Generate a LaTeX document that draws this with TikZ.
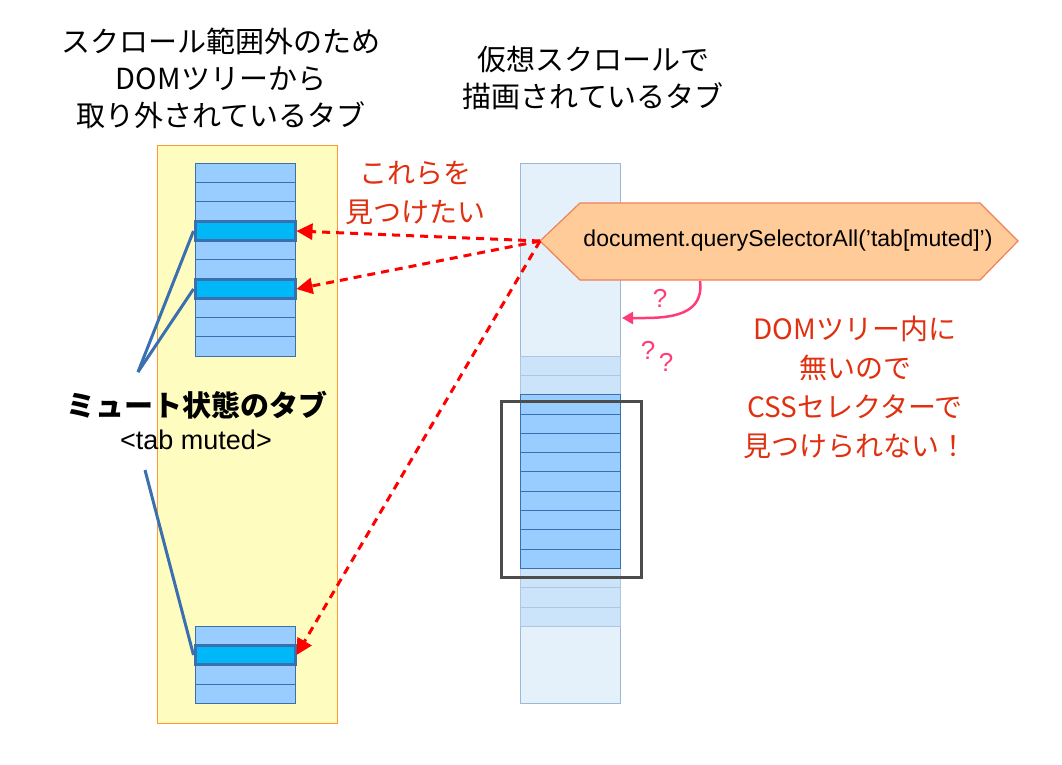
\documentclass[tikz,border=0pt]{standalone}
\usepackage{fontspec}
\setmainfont{Noto Sans CJK JP}
\newfontfamily\latinfont{Liberation Sans}
\usetikzlibrary{arrows.meta,positioning,shapes.geometric}
\definecolor{tabblue}{HTML}{99CCFF}
\definecolor{tabline}{HTML}{3A6FB0}
\definecolor{tabcyan}{HTML}{00B8F8}
\definecolor{lightcol}{HTML}{E4F1FA}
\definecolor{paleblue}{HTML}{CCE4FA}
\definecolor{hexfill}{HTML}{FFCC99}
\definecolor{hexline}{HTML}{F0805A}
\definecolor{redtext}{HTML}{E03010}
\definecolor{pinkarrow}{HTML}{FF3C78}
\tikzset{tab/.style={draw=tabline,fill=tabblue,line width=0.8pt},
         pale tab/.style={draw=tabline!40,fill=paleblue,line width=0.8pt},
         muted tab/.style={draw=tabline,fill=tabcyan,line width=3pt},
         head/.style={font=\fontsize{29}{37}\selectfont,align=center},
         red note/.style={font=\fontsize{28}{39}\selectfont,align=center,text=redtext},
         find arrow/.style={draw=red,line width=3pt,dash pattern=on 8pt off 6pt,-{Triangle[length=16pt,width=16pt]}},
         pointer/.style={draw=tabline,line width=3pt},
         puzzle/.style={text=pinkarrow,font=\latinfont\fontsize{26}{28}\selectfont},
}
\begin{document}
\begin{tikzpicture}[x=1pt,y=-1pt]
\useasboundingbox[fill=white] (0,0) rectangle (1062,764);
% left column: tabs out of the DOM tree
\node[head] (lefthead) at (221,78) {スクロール範囲外のため\\DOMツリーから\\取り外されているタブ};
\draw[draw=orange!80,fill=yellow!25] (157,145) rectangle (337,723);
\foreach \i in {0,...,9}
  \draw[tab] (195,163+19.3*\i) rectangle (295,163+19.3*\i+19.3);
\foreach \i in {0,...,3}
  \draw[tab] (195,626+19.3*\i) rectangle (295,626+19.3*\i+19.3);
\node[muted tab,minimum width=100pt,minimum height=19.3pt,inner sep=0pt] (muteA) at (245,231) {};
\node[muted tab,minimum width=100pt,minimum height=19.3pt,inner sep=0pt] (muteB) at (245,289) {};
\node[muted tab,minimum width=100pt,minimum height=19.3pt,inner sep=0pt] (muteC) at (245,655) {};
\node[font=\fontsize{29}{32}\selectfont\bfseries] (mutelabel) at (197,405) {ミュート状態のタブ};
\node[font=\latinfont\fontsize{27}{30}\selectfont] (mutetag) at (196,440) {<tab muted>};
\coordinate (pa) at (138,372);
\coordinate (pb) at (145,470);
\draw[pointer] (pa) -- (muteA.west);
\draw[pointer] (pa) -- (muteB.west);
\draw[pointer] (pb) -- (muteC.west);
% middle column: virtual scroll
\node[head] (midhead) at (593,78) {仮想スクロールで\\描画されているタブ};
\draw[draw=tabline!50,fill=lightcol] (520,163) rectangle (620,703);
\foreach \i in {0,1,11,12,13}
  \draw[pale tab] (520,356+19.3*\i) rectangle (620,356+19.3*\i+19.3);
\foreach \i in {2,...,10}
  \draw[tab] (520,356+19.3*\i) rectangle (620,356+19.3*\i+19.3);
\draw[draw=black!70,line width=3pt] (501,401) rectangle (641,577);
% query selector
\draw[draw=hexline,fill=hexfill,line width=1.2pt] (540,241) -- (580,203) -- (980,203) -- (1018,241) -- (980,280) -- (580,280) -- cycle;
\node[font=\latinfont\fontsize{23}{26}\selectfont] (query) at (788,241) {document.querySelectorAll(’tab[muted]’)};
\coordinate (qtip) at (540,241);
\draw[find arrow] (qtip) -- (muteA.east);
\draw[find arrow] (qtip) -- (muteB.east);
\draw[find arrow] (qtip) -- (muteC.east);
\node[red note] (want) at (415,193) {これらを\\見つけたい};
% not found
\coordinate (curvestart) at (700,281);
\coordinate (curveend) at (622,318);
\draw[draw=pinkarrow,line width=2.5pt,-{Triangle[length=11pt,width=12pt]}] (curvestart) .. controls (705,320) and (660,318) .. (curveend);
\node[puzzle] (q1) at (660,298) {?};
\node[puzzle] (q2) at (648,350) {?};
\node[puzzle] (q3) at (666,362) {?};
\node[red note] (notfound) at (855,387) {DOMツリー内に\\無いので\\CSSセレクターで\\見つけられない！};
\end{tikzpicture}
\end{document}
